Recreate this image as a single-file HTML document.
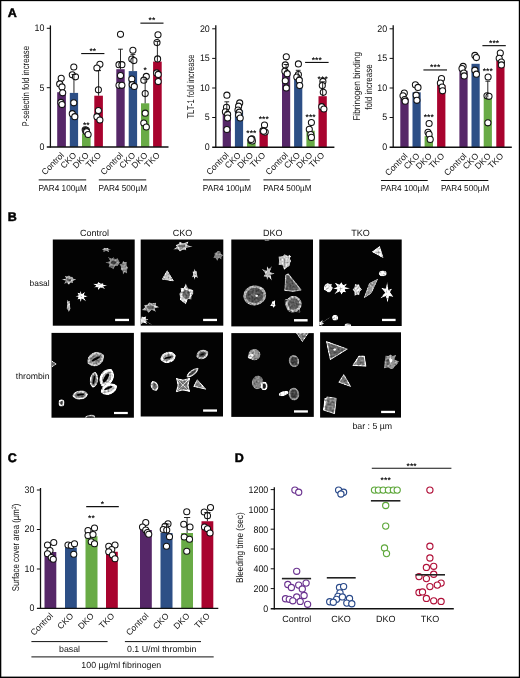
<!DOCTYPE html>
<html><head><meta charset="utf-8"><title>Figure</title>
<style>
html,body{margin:0;padding:0;background:#fff;}
body{width:520px;height:678px;overflow:hidden;position:relative;font-family:"Liberation Sans",sans-serif;}
svg{position:absolute;left:0;top:0;display:block;text-rendering:geometricPrecision;will-change:transform;-webkit-font-smoothing:antialiased;font-family:"Liberation Sans",sans-serif;}
</style></head>
<body>
<svg width="520" height="678" viewBox="0 0 520 678">
<rect x="0" y="0" width="520" height="678" fill="#fff"/>
<rect x="57.2" y="92.2" width="8.7" height="54.7" fill="#562768"/>
<rect x="69.8" y="92.9" width="8.3" height="54" fill="#2d4f86"/>
<rect x="82" y="133.5" width="8.6" height="13.4" fill="#69ab46"/>
<rect x="94.3" y="95.7" width="8.6" height="51.2" fill="#a8032e"/>
<rect x="116.3" y="69.2" width="8.4" height="77.7" fill="#562768"/>
<rect x="128.7" y="71.1" width="8.4" height="75.8" fill="#2d4f86"/>
<rect x="141" y="103.3" width="8.3" height="43.6" fill="#69ab46"/>
<rect x="153.1" y="61.6" width="8.6" height="85.3" fill="#a8032e"/>
<circle cx="61.2" cy="78.3" r="3.05" fill="#fff" stroke="#111" stroke-width="1.05"/>
<circle cx="59.7" cy="83.9" r="3.05" fill="#fff" stroke="#111" stroke-width="1.05"/>
<circle cx="62" cy="86.9" r="3.05" fill="#fff" stroke="#111" stroke-width="1.05"/>
<circle cx="62.7" cy="92.8" r="3.05" fill="#fff" stroke="#111" stroke-width="1.05"/>
<circle cx="60.9" cy="102.4" r="3.05" fill="#fff" stroke="#111" stroke-width="1.05"/>
<circle cx="62" cy="104.6" r="3.05" fill="#fff" stroke="#111" stroke-width="1.05"/>
<circle cx="73.8" cy="67" r="3.05" fill="#fff" stroke="#111" stroke-width="1.05"/>
<circle cx="72.3" cy="74.8" r="3.05" fill="#fff" stroke="#111" stroke-width="1.05"/>
<circle cx="75.5" cy="76.8" r="3.05" fill="#fff" stroke="#111" stroke-width="1.05"/>
<circle cx="73.8" cy="102.8" r="3.05" fill="#fff" stroke="#111" stroke-width="1.05"/>
<circle cx="72.3" cy="113.7" r="3.05" fill="#fff" stroke="#111" stroke-width="1.05"/>
<circle cx="74.8" cy="116.7" r="3.05" fill="#fff" stroke="#111" stroke-width="1.05"/>
<circle cx="85.2" cy="129.8" r="3.05" fill="#fff" stroke="#111" stroke-width="1.05"/>
<circle cx="86.4" cy="130.4" r="3.05" fill="#fff" stroke="#111" stroke-width="1.05"/>
<circle cx="85.8" cy="131.2" r="3.05" fill="#fff" stroke="#111" stroke-width="1.05"/>
<circle cx="86.6" cy="131.8" r="3.05" fill="#fff" stroke="#111" stroke-width="1.05"/>
<circle cx="88.1" cy="134.5" r="3.05" fill="#fff" stroke="#111" stroke-width="1.05"/>
<circle cx="99.9" cy="64.3" r="3.05" fill="#fff" stroke="#111" stroke-width="1.05"/>
<circle cx="96.9" cy="68" r="3.05" fill="#fff" stroke="#111" stroke-width="1.05"/>
<circle cx="98.4" cy="89.8" r="3.05" fill="#fff" stroke="#111" stroke-width="1.05"/>
<circle cx="98.4" cy="110.5" r="3.05" fill="#fff" stroke="#111" stroke-width="1.05"/>
<circle cx="96.9" cy="116.7" r="3.05" fill="#fff" stroke="#111" stroke-width="1.05"/>
<circle cx="99.9" cy="120" r="3.05" fill="#fff" stroke="#111" stroke-width="1.05"/>
<circle cx="120.5" cy="34.3" r="3.05" fill="#fff" stroke="#111" stroke-width="1.05"/>
<circle cx="119" cy="64.7" r="3.05" fill="#fff" stroke="#111" stroke-width="1.05"/>
<circle cx="121.9" cy="64.7" r="3.05" fill="#fff" stroke="#111" stroke-width="1.05"/>
<circle cx="120.5" cy="75.6" r="3.05" fill="#fff" stroke="#111" stroke-width="1.05"/>
<circle cx="119" cy="85.3" r="3.05" fill="#fff" stroke="#111" stroke-width="1.05"/>
<circle cx="121.9" cy="85.3" r="3.05" fill="#fff" stroke="#111" stroke-width="1.05"/>
<circle cx="132.9" cy="50.2" r="3.05" fill="#fff" stroke="#111" stroke-width="1.05"/>
<circle cx="131.8" cy="59.1" r="3.05" fill="#fff" stroke="#111" stroke-width="1.05"/>
<circle cx="133.9" cy="60.6" r="3.05" fill="#fff" stroke="#111" stroke-width="1.05"/>
<circle cx="131.8" cy="79.1" r="3.05" fill="#fff" stroke="#111" stroke-width="1.05"/>
<circle cx="132.2" cy="84.7" r="3.05" fill="#fff" stroke="#111" stroke-width="1.05"/>
<circle cx="134.3" cy="86.4" r="3.05" fill="#fff" stroke="#111" stroke-width="1.05"/>
<circle cx="146.3" cy="76.4" r="3.05" fill="#fff" stroke="#111" stroke-width="1.05"/>
<circle cx="143.8" cy="80.2" r="3.05" fill="#fff" stroke="#111" stroke-width="1.05"/>
<circle cx="145.2" cy="93.6" r="3.05" fill="#fff" stroke="#111" stroke-width="1.05"/>
<circle cx="145.2" cy="113.2" r="3.05" fill="#fff" stroke="#111" stroke-width="1.05"/>
<circle cx="143.8" cy="123.1" r="3.05" fill="#fff" stroke="#111" stroke-width="1.05"/>
<circle cx="146.3" cy="127" r="3.05" fill="#fff" stroke="#111" stroke-width="1.05"/>
<circle cx="158" cy="34.8" r="3.05" fill="#fff" stroke="#111" stroke-width="1.05"/>
<circle cx="157" cy="42.6" r="3.05" fill="#fff" stroke="#111" stroke-width="1.05"/>
<circle cx="157.6" cy="58.9" r="3.05" fill="#fff" stroke="#111" stroke-width="1.05"/>
<circle cx="156.6" cy="72.9" r="3.05" fill="#fff" stroke="#111" stroke-width="1.05"/>
<circle cx="158.2" cy="74.4" r="3.05" fill="#fff" stroke="#111" stroke-width="1.05"/>
<circle cx="158.2" cy="81.6" r="3.05" fill="#fff" stroke="#111" stroke-width="1.05"/>
<line x1="73.95" y1="92.9" x2="73.95" y2="74.5" stroke="#111" stroke-width="0.9"/>
<line x1="71.55" y1="74.5" x2="76.35" y2="74.5" stroke="#111" stroke-width="0.9"/>
<line x1="98.6" y1="95.7" x2="98.6" y2="70.6" stroke="#111" stroke-width="0.9"/>
<line x1="96.2" y1="70.6" x2="101" y2="70.6" stroke="#111" stroke-width="0.9"/>
<line x1="120.5" y1="69.2" x2="120.5" y2="49.2" stroke="#111" stroke-width="0.9"/>
<line x1="118.1" y1="49.2" x2="122.9" y2="49.2" stroke="#111" stroke-width="0.9"/>
<line x1="132.9" y1="71.1" x2="132.9" y2="54.4" stroke="#111" stroke-width="0.9"/>
<line x1="130.5" y1="54.4" x2="135.3" y2="54.4" stroke="#111" stroke-width="0.9"/>
<line x1="145.15" y1="103.3" x2="145.15" y2="79.1" stroke="#111" stroke-width="0.9"/>
<line x1="142.75" y1="79.1" x2="147.55" y2="79.1" stroke="#111" stroke-width="0.9"/>
<line x1="157.4" y1="61.6" x2="157.4" y2="41.4" stroke="#111" stroke-width="0.9"/>
<line x1="155" y1="41.4" x2="159.8" y2="41.4" stroke="#111" stroke-width="0.9"/>
<line x1="50.4" y1="25.4" x2="50.4" y2="147.6" stroke="#111" stroke-width="1.3"/>
<line x1="46.8" y1="147" x2="168.5" y2="147" stroke="#111" stroke-width="1.4"/>
<line x1="46.8" y1="28.3" x2="50.4" y2="28.3" stroke="#111" stroke-width="1.0"/>
<text x="44.4" y="31.15" font-size="9.5" text-anchor="end" font-weight="normal" fill="#111" textLength="9.9" lengthAdjust="spacingAndGlyphs">10</text>
<line x1="46.8" y1="87.7" x2="50.4" y2="87.7" stroke="#111" stroke-width="1.0"/>
<text x="44.4" y="90.55" font-size="9.5" text-anchor="end" font-weight="normal" fill="#111" textLength="4.95" lengthAdjust="spacingAndGlyphs">5</text>
<text x="44.4" y="149.75" font-size="9.5" text-anchor="end" font-weight="normal" fill="#111" textLength="4.95" lengthAdjust="spacingAndGlyphs">0</text>
<line x1="81.2" y1="53.55" x2="104.4" y2="53.55" stroke="#111" stroke-width="1.15"/>
<text x="92.8" y="53.7" font-size="8.4" text-anchor="middle" font-weight="bold" fill="#111" letter-spacing="0.15">**</text>
<line x1="140.4" y1="23.15" x2="163.5" y2="23.15" stroke="#111" stroke-width="1.15"/>
<text x="152" y="23.3" font-size="8.4" text-anchor="middle" font-weight="bold" fill="#111" letter-spacing="0.15">**</text>
<text x="86.3" y="127.7" font-size="8.4" text-anchor="middle" font-weight="bold" fill="#111" letter-spacing="0.15">**</text>
<text x="145.2" y="73.4" font-size="8.4" text-anchor="middle" font-weight="bold" fill="#111" letter-spacing="0.15">*</text>
<text transform="translate(28.6,86.2) rotate(-90)" font-size="9.8" text-anchor="middle" fill="#111" textLength="80.6" lengthAdjust="spacingAndGlyphs">P-selectin fold increase</text>
<text transform="translate(64.6,155.8) rotate(-45)" font-size="8.6" text-anchor="end" fill="#111" >Control</text>
<text transform="translate(77.1,155.8) rotate(-45)" font-size="8.6" text-anchor="end" fill="#111" >CKO</text>
<text transform="translate(89.4,155.8) rotate(-45)" font-size="8.6" text-anchor="end" fill="#111" >DKO</text>
<text transform="translate(101.7,155.8) rotate(-45)" font-size="8.6" text-anchor="end" fill="#111" >TKO</text>
<text transform="translate(123.6,155.8) rotate(-45)" font-size="8.6" text-anchor="end" fill="#111" >Control</text>
<text transform="translate(136,155.8) rotate(-45)" font-size="8.6" text-anchor="end" fill="#111" >CKO</text>
<text transform="translate(148.2,155.8) rotate(-45)" font-size="8.6" text-anchor="end" fill="#111" >DKO</text>
<text transform="translate(160.5,155.8) rotate(-45)" font-size="8.6" text-anchor="end" fill="#111" >TKO</text>
<line x1="38.7" y1="179.9" x2="86.2" y2="179.9" stroke="#111" stroke-width="1.0"/>
<text x="38.5" y="190.6" font-size="8.6" text-anchor="start" font-weight="normal" fill="#111" textLength="48.4" lengthAdjust="spacingAndGlyphs">PAR4 100µM</text>
<line x1="98.8" y1="179.9" x2="146.2" y2="179.9" stroke="#111" stroke-width="1.0"/>
<text x="98.6" y="190.6" font-size="8.6" text-anchor="start" font-weight="normal" fill="#111" textLength="48.4" lengthAdjust="spacingAndGlyphs">PAR4 500µM</text>
<rect x="222.7" y="112.9" width="8.2" height="34.2" fill="#562768"/>
<rect x="234.9" y="110.5" width="8.2" height="36.6" fill="#2d4f86"/>
<rect x="247" y="142.3" width="8.6" height="4.8" fill="#69ab46"/>
<rect x="259.5" y="131.2" width="8.3" height="15.9" fill="#a8032e"/>
<rect x="282" y="72.2" width="8.2" height="74.9" fill="#562768"/>
<rect x="294.1" y="77.9" width="8.2" height="69.2" fill="#2d4f86"/>
<rect x="306.4" y="130.7" width="8.3" height="16.4" fill="#69ab46"/>
<rect x="318.5" y="96.2" width="8.3" height="50.9" fill="#a8032e"/>
<circle cx="226.9" cy="95.2" r="3.05" fill="#fff" stroke="#111" stroke-width="1.05"/>
<circle cx="226.5" cy="107.3" r="3.05" fill="#fff" stroke="#111" stroke-width="1.05"/>
<circle cx="225.4" cy="111.8" r="3.05" fill="#fff" stroke="#111" stroke-width="1.05"/>
<circle cx="227.6" cy="114.4" r="3.05" fill="#fff" stroke="#111" stroke-width="1.05"/>
<circle cx="227.6" cy="118" r="3.05" fill="#fff" stroke="#111" stroke-width="1.05"/>
<circle cx="226.9" cy="129.5" r="3.05" fill="#fff" stroke="#111" stroke-width="1.05"/>
<circle cx="239.7" cy="102.9" r="3.05" fill="#fff" stroke="#111" stroke-width="1.05"/>
<circle cx="238.6" cy="106.2" r="3.05" fill="#fff" stroke="#111" stroke-width="1.05"/>
<circle cx="238" cy="110" r="3.05" fill="#fff" stroke="#111" stroke-width="1.05"/>
<circle cx="239.3" cy="112.2" r="3.05" fill="#fff" stroke="#111" stroke-width="1.05"/>
<circle cx="238.6" cy="115.1" r="3.05" fill="#fff" stroke="#111" stroke-width="1.05"/>
<circle cx="240.2" cy="118" r="3.05" fill="#fff" stroke="#111" stroke-width="1.05"/>
<circle cx="251.9" cy="138.8" r="3.05" fill="#fff" stroke="#111" stroke-width="1.05"/>
<circle cx="250.8" cy="140.5" r="3.05" fill="#fff" stroke="#111" stroke-width="1.05"/>
<circle cx="252.4" cy="141" r="3.05" fill="#fff" stroke="#111" stroke-width="1.05"/>
<circle cx="251.2" cy="139.4" r="3.05" fill="#fff" stroke="#111" stroke-width="1.05"/>
<circle cx="264.5" cy="125" r="3.05" fill="#fff" stroke="#111" stroke-width="1.05"/>
<circle cx="263" cy="130.6" r="3.05" fill="#fff" stroke="#111" stroke-width="1.05"/>
<circle cx="265.2" cy="132.1" r="3.05" fill="#fff" stroke="#111" stroke-width="1.05"/>
<circle cx="263.6" cy="131.2" r="3.05" fill="#fff" stroke="#111" stroke-width="1.05"/>
<circle cx="286.3" cy="56.8" r="3.05" fill="#fff" stroke="#111" stroke-width="1.05"/>
<circle cx="285.3" cy="64.9" r="3.05" fill="#fff" stroke="#111" stroke-width="1.05"/>
<circle cx="284.9" cy="71.2" r="3.05" fill="#fff" stroke="#111" stroke-width="1.05"/>
<circle cx="287.2" cy="73.7" r="3.05" fill="#fff" stroke="#111" stroke-width="1.05"/>
<circle cx="285.3" cy="80.8" r="3.05" fill="#fff" stroke="#111" stroke-width="1.05"/>
<circle cx="286.3" cy="87.9" r="3.05" fill="#fff" stroke="#111" stroke-width="1.05"/>
<circle cx="298.4" cy="63.9" r="3.05" fill="#fff" stroke="#111" stroke-width="1.05"/>
<circle cx="298.4" cy="74.5" r="3.05" fill="#fff" stroke="#111" stroke-width="1.05"/>
<circle cx="296.8" cy="77" r="3.05" fill="#fff" stroke="#111" stroke-width="1.05"/>
<circle cx="299.3" cy="80.2" r="3.05" fill="#fff" stroke="#111" stroke-width="1.05"/>
<circle cx="299.7" cy="85.6" r="3.05" fill="#fff" stroke="#111" stroke-width="1.05"/>
<circle cx="311.4" cy="122.6" r="3.05" fill="#fff" stroke="#111" stroke-width="1.05"/>
<circle cx="309.3" cy="129.3" r="3.05" fill="#fff" stroke="#111" stroke-width="1.05"/>
<circle cx="310.8" cy="134.5" r="3.05" fill="#fff" stroke="#111" stroke-width="1.05"/>
<circle cx="311.4" cy="137.4" r="3.05" fill="#fff" stroke="#111" stroke-width="1.05"/>
<circle cx="322.9" cy="81.4" r="3.05" fill="#fff" stroke="#111" stroke-width="1.05"/>
<circle cx="322.3" cy="85.6" r="3.05" fill="#fff" stroke="#111" stroke-width="1.05"/>
<circle cx="323.3" cy="92.3" r="3.05" fill="#fff" stroke="#111" stroke-width="1.05"/>
<circle cx="321.7" cy="106.7" r="3.05" fill="#fff" stroke="#111" stroke-width="1.05"/>
<circle cx="323.9" cy="109" r="3.05" fill="#fff" stroke="#111" stroke-width="1.05"/>
<line x1="226.8" y1="112.9" x2="226.8" y2="101.8" stroke="#111" stroke-width="0.9"/>
<line x1="224.4" y1="101.8" x2="229.2" y2="101.8" stroke="#111" stroke-width="0.9"/>
<line x1="286.1" y1="72.2" x2="286.1" y2="64.5" stroke="#111" stroke-width="0.9"/>
<line x1="283.7" y1="64.5" x2="288.5" y2="64.5" stroke="#111" stroke-width="0.9"/>
<line x1="298.2" y1="77.9" x2="298.2" y2="70.3" stroke="#111" stroke-width="0.9"/>
<line x1="295.8" y1="70.3" x2="300.6" y2="70.3" stroke="#111" stroke-width="0.9"/>
<line x1="322.65" y1="96.2" x2="322.65" y2="81.8" stroke="#111" stroke-width="0.9"/>
<line x1="320.25" y1="81.8" x2="325.05" y2="81.8" stroke="#111" stroke-width="0.9"/>
<line x1="215.8" y1="25.3" x2="215.8" y2="147.8" stroke="#111" stroke-width="1.3"/>
<line x1="212.2" y1="147.2" x2="334.4" y2="147.2" stroke="#111" stroke-width="1.4"/>
<line x1="212.2" y1="28.8" x2="215.8" y2="28.8" stroke="#111" stroke-width="1.0"/>
<text x="209.8" y="31.65" font-size="9.5" text-anchor="end" font-weight="normal" fill="#111" textLength="9.9" lengthAdjust="spacingAndGlyphs">20</text>
<line x1="212.2" y1="58.4" x2="215.8" y2="58.4" stroke="#111" stroke-width="1.0"/>
<text x="209.8" y="61.25" font-size="9.5" text-anchor="end" font-weight="normal" fill="#111" textLength="9.9" lengthAdjust="spacingAndGlyphs">15</text>
<line x1="212.2" y1="88" x2="215.8" y2="88" stroke="#111" stroke-width="1.0"/>
<text x="209.8" y="90.85" font-size="9.5" text-anchor="end" font-weight="normal" fill="#111" textLength="9.9" lengthAdjust="spacingAndGlyphs">10</text>
<line x1="212.2" y1="117.5" x2="215.8" y2="117.5" stroke="#111" stroke-width="1.0"/>
<text x="209.8" y="120.35" font-size="9.5" text-anchor="end" font-weight="normal" fill="#111" textLength="4.95" lengthAdjust="spacingAndGlyphs">5</text>
<text x="209.8" y="149.95" font-size="9.5" text-anchor="end" font-weight="normal" fill="#111" textLength="4.95" lengthAdjust="spacingAndGlyphs">0</text>
<line x1="305.1" y1="62.45" x2="328.6" y2="62.45" stroke="#111" stroke-width="1.15"/>
<text x="316.8" y="62.7" font-size="8.4" text-anchor="middle" font-weight="bold" fill="#111" letter-spacing="0.15">***</text>
<text x="251.4" y="135.5" font-size="8.4" text-anchor="middle" font-weight="bold" fill="#111" letter-spacing="0.15">***</text>
<text x="263.8" y="122.3" font-size="8.4" text-anchor="middle" font-weight="bold" fill="#111" letter-spacing="0.15">***</text>
<text x="310.6" y="120.3" font-size="8.4" text-anchor="middle" font-weight="bold" fill="#111" letter-spacing="0.15">***</text>
<text x="322.7" y="81.6" font-size="8.4" text-anchor="middle" font-weight="bold" fill="#111" letter-spacing="0.15">***</text>
<text transform="translate(194,86.5) rotate(-90)" font-size="9.8" text-anchor="middle" fill="#111" textLength="64" lengthAdjust="spacingAndGlyphs">TLT-1 fold increase</text>
<text transform="translate(229.3,155.8) rotate(-45)" font-size="8.6" text-anchor="end" fill="#111" >Control</text>
<text transform="translate(241.5,155.8) rotate(-45)" font-size="8.6" text-anchor="end" fill="#111" >CKO</text>
<text transform="translate(253.8,155.8) rotate(-45)" font-size="8.6" text-anchor="end" fill="#111" >DKO</text>
<text transform="translate(266.1,155.8) rotate(-45)" font-size="8.6" text-anchor="end" fill="#111" >TKO</text>
<text transform="translate(288.6,155.8) rotate(-45)" font-size="8.6" text-anchor="end" fill="#111" >Control</text>
<text transform="translate(300.7,155.8) rotate(-45)" font-size="8.6" text-anchor="end" fill="#111" >CKO</text>
<text transform="translate(313,155.8) rotate(-45)" font-size="8.6" text-anchor="end" fill="#111" >DKO</text>
<text transform="translate(325.1,155.8) rotate(-45)" font-size="8.6" text-anchor="end" fill="#111" >TKO</text>
<line x1="203" y1="179.9" x2="249.8" y2="179.9" stroke="#111" stroke-width="1.0"/>
<text x="202.8" y="190.6" font-size="8.6" text-anchor="start" font-weight="normal" fill="#111" textLength="48.4" lengthAdjust="spacingAndGlyphs">PAR4 100µM</text>
<line x1="263.4" y1="179.9" x2="310.4" y2="179.9" stroke="#111" stroke-width="1.0"/>
<text x="263.2" y="190.6" font-size="8.6" text-anchor="start" font-weight="normal" fill="#111" textLength="48.4" lengthAdjust="spacingAndGlyphs">PAR4 500µM</text>
<rect x="400.3" y="98.5" width="8.3" height="48.6" fill="#562768"/>
<rect x="412.5" y="92.3" width="8.2" height="54.8" fill="#2d4f86"/>
<rect x="424.6" y="136.1" width="8.4" height="11" fill="#69ab46"/>
<rect x="437.1" y="85.2" width="8.3" height="61.9" fill="#a8032e"/>
<rect x="459.4" y="70.8" width="8.2" height="76.3" fill="#562768"/>
<rect x="471.5" y="63.8" width="8.2" height="83.3" fill="#2d4f86"/>
<rect x="483.7" y="97.4" width="8.2" height="49.7" fill="#69ab46"/>
<rect x="496.3" y="60.9" width="8.2" height="86.2" fill="#a8032e"/>
<circle cx="404.3" cy="93" r="3.05" fill="#fff" stroke="#111" stroke-width="1.05"/>
<circle cx="403" cy="95.8" r="3.05" fill="#fff" stroke="#111" stroke-width="1.05"/>
<circle cx="404.7" cy="99.6" r="3.05" fill="#fff" stroke="#111" stroke-width="1.05"/>
<circle cx="405.2" cy="101.2" r="3.05" fill="#fff" stroke="#111" stroke-width="1.05"/>
<circle cx="415.4" cy="84.8" r="3.05" fill="#fff" stroke="#111" stroke-width="1.05"/>
<circle cx="418" cy="87.4" r="3.05" fill="#fff" stroke="#111" stroke-width="1.05"/>
<circle cx="416.2" cy="95.2" r="3.05" fill="#fff" stroke="#111" stroke-width="1.05"/>
<circle cx="416.9" cy="100.3" r="3.05" fill="#fff" stroke="#111" stroke-width="1.05"/>
<circle cx="429.1" cy="123.5" r="3.05" fill="#fff" stroke="#111" stroke-width="1.05"/>
<circle cx="428" cy="132.3" r="3.05" fill="#fff" stroke="#111" stroke-width="1.05"/>
<circle cx="429.1" cy="134.3" r="3.05" fill="#fff" stroke="#111" stroke-width="1.05"/>
<circle cx="430.2" cy="139.4" r="3.05" fill="#fff" stroke="#111" stroke-width="1.05"/>
<circle cx="441.5" cy="78.6" r="3.05" fill="#fff" stroke="#111" stroke-width="1.05"/>
<circle cx="440.4" cy="83" r="3.05" fill="#fff" stroke="#111" stroke-width="1.05"/>
<circle cx="442.1" cy="87" r="3.05" fill="#fff" stroke="#111" stroke-width="1.05"/>
<circle cx="442.6" cy="90.8" r="3.05" fill="#fff" stroke="#111" stroke-width="1.05"/>
<circle cx="463.1" cy="66.4" r="3.05" fill="#fff" stroke="#111" stroke-width="1.05"/>
<circle cx="462" cy="68.6" r="3.05" fill="#fff" stroke="#111" stroke-width="1.05"/>
<circle cx="463.8" cy="73" r="3.05" fill="#fff" stroke="#111" stroke-width="1.05"/>
<circle cx="464.2" cy="75.9" r="3.05" fill="#fff" stroke="#111" stroke-width="1.05"/>
<circle cx="474.9" cy="55.4" r="3.05" fill="#fff" stroke="#111" stroke-width="1.05"/>
<circle cx="476.4" cy="57.6" r="3.05" fill="#fff" stroke="#111" stroke-width="1.05"/>
<circle cx="474.9" cy="70.2" r="3.05" fill="#fff" stroke="#111" stroke-width="1.05"/>
<circle cx="476.4" cy="74.2" r="3.05" fill="#fff" stroke="#111" stroke-width="1.05"/>
<circle cx="488.1" cy="77" r="3.05" fill="#fff" stroke="#111" stroke-width="1.05"/>
<circle cx="487" cy="95.8" r="3.05" fill="#fff" stroke="#111" stroke-width="1.05"/>
<circle cx="489" cy="96.3" r="3.05" fill="#fff" stroke="#111" stroke-width="1.05"/>
<circle cx="487.9" cy="122.8" r="3.05" fill="#fff" stroke="#111" stroke-width="1.05"/>
<circle cx="500.3" cy="53.1" r="3.05" fill="#fff" stroke="#111" stroke-width="1.05"/>
<circle cx="499.2" cy="58.2" r="3.05" fill="#fff" stroke="#111" stroke-width="1.05"/>
<circle cx="501.4" cy="62" r="3.05" fill="#fff" stroke="#111" stroke-width="1.05"/>
<circle cx="501.4" cy="64.9" r="3.05" fill="#fff" stroke="#111" stroke-width="1.05"/>
<line x1="487.8" y1="97.4" x2="487.8" y2="81.2" stroke="#111" stroke-width="0.9"/>
<line x1="485.4" y1="81.2" x2="490.2" y2="81.2" stroke="#111" stroke-width="0.9"/>
<line x1="393.2" y1="25.3" x2="393.2" y2="147.8" stroke="#111" stroke-width="1.3"/>
<line x1="389.6" y1="147.2" x2="511.8" y2="147.2" stroke="#111" stroke-width="1.4"/>
<line x1="389.6" y1="28.8" x2="393.2" y2="28.8" stroke="#111" stroke-width="1.0"/>
<text x="387.2" y="31.65" font-size="9.5" text-anchor="end" font-weight="normal" fill="#111" textLength="9.9" lengthAdjust="spacingAndGlyphs">20</text>
<line x1="389.6" y1="58.4" x2="393.2" y2="58.4" stroke="#111" stroke-width="1.0"/>
<text x="387.2" y="61.25" font-size="9.5" text-anchor="end" font-weight="normal" fill="#111" textLength="9.9" lengthAdjust="spacingAndGlyphs">15</text>
<line x1="389.6" y1="88" x2="393.2" y2="88" stroke="#111" stroke-width="1.0"/>
<text x="387.2" y="90.85" font-size="9.5" text-anchor="end" font-weight="normal" fill="#111" textLength="9.9" lengthAdjust="spacingAndGlyphs">10</text>
<line x1="389.6" y1="117.5" x2="393.2" y2="117.5" stroke="#111" stroke-width="1.0"/>
<text x="387.2" y="120.35" font-size="9.5" text-anchor="end" font-weight="normal" fill="#111" textLength="4.95" lengthAdjust="spacingAndGlyphs">5</text>
<text x="387.2" y="149.95" font-size="9.5" text-anchor="end" font-weight="normal" fill="#111" textLength="4.95" lengthAdjust="spacingAndGlyphs">0</text>
<line x1="423.4" y1="69.95" x2="447" y2="69.95" stroke="#111" stroke-width="1.15"/>
<text x="435.2" y="70.3" font-size="8.4" text-anchor="middle" font-weight="bold" fill="#111" letter-spacing="0.15">***</text>
<line x1="482.4" y1="45.65" x2="505.8" y2="45.65" stroke="#111" stroke-width="1.15"/>
<text x="494.1" y="46" font-size="8.4" text-anchor="middle" font-weight="bold" fill="#111" letter-spacing="0.15">***</text>
<text x="428.8" y="120.3" font-size="8.4" text-anchor="middle" font-weight="bold" fill="#111" letter-spacing="0.15">***</text>
<text x="487.8" y="74.3" font-size="8.4" text-anchor="middle" font-weight="bold" fill="#111" letter-spacing="0.15">***</text>
<text transform="translate(360.3,86.3) rotate(-90)" font-size="9.8" text-anchor="middle" fill="#111" textLength="69" lengthAdjust="spacingAndGlyphs">Fibrinogen binding</text>
<text transform="translate(372.2,87) rotate(-90)" font-size="9.8" text-anchor="middle" fill="#111" textLength="45.4" lengthAdjust="spacingAndGlyphs">fold increase</text>
<text transform="translate(408.1,156.6) rotate(-45)" font-size="8.6" text-anchor="end" fill="#111" >Control</text>
<text transform="translate(420.3,156.6) rotate(-45)" font-size="8.6" text-anchor="end" fill="#111" >CKO</text>
<text transform="translate(432.5,156.6) rotate(-45)" font-size="8.6" text-anchor="end" fill="#111" >DKO</text>
<text transform="translate(444.9,156.6) rotate(-45)" font-size="8.6" text-anchor="end" fill="#111" >TKO</text>
<text transform="translate(467.2,156.6) rotate(-45)" font-size="8.6" text-anchor="end" fill="#111" >Control</text>
<text transform="translate(479.3,156.6) rotate(-45)" font-size="8.6" text-anchor="end" fill="#111" >CKO</text>
<text transform="translate(491.5,156.6) rotate(-45)" font-size="8.6" text-anchor="end" fill="#111" >DKO</text>
<text transform="translate(504.1,156.6) rotate(-45)" font-size="8.6" text-anchor="end" fill="#111" >TKO</text>
<line x1="381" y1="180.5" x2="427.7" y2="180.5" stroke="#111" stroke-width="1.0"/>
<text x="380.8" y="191.2" font-size="8.6" text-anchor="start" font-weight="normal" fill="#111" textLength="48.4" lengthAdjust="spacingAndGlyphs">PAR4 100µM</text>
<line x1="441.2" y1="180.5" x2="488.3" y2="180.5" stroke="#111" stroke-width="1.0"/>
<text x="441" y="191.2" font-size="8.6" text-anchor="start" font-weight="normal" fill="#111" textLength="48.4" lengthAdjust="spacingAndGlyphs">PAR4 500µM</text>
<text x="7.8" y="17.4" font-size="12.5" text-anchor="start" font-weight="bold" fill="#000" stroke="#000" stroke-width="0.5">A</text>
<text x="7.8" y="221.3" font-size="12.5" text-anchor="start" font-weight="bold" fill="#000" stroke="#000" stroke-width="0.5">B</text>
<text x="7.8" y="462" font-size="12.5" text-anchor="start" font-weight="bold" fill="#000" stroke="#000" stroke-width="0.5">C</text>
<text x="234.8" y="462" font-size="12.5" text-anchor="start" font-weight="bold" fill="#000" stroke="#000" stroke-width="0.5">D</text>
<defs><filter id="bl" x="-5%" y="-5%" width="110%" height="110%" color-interpolation-filters="sRGB"><feTurbulence type="fractalNoise" baseFrequency="0.5" numOctaves="2" seed="4" result="n"/><feColorMatrix in="n" type="matrix" values="1.3 0 0 0 -0.15  1.3 0 0 0 -0.15  1.3 0 0 0 -0.15  0 0 0 0 1" result="n2"/><feComposite in="SourceGraphic" in2="n2" operator="arithmetic" k1="1.05" k2="0.55" k3="0" k4="0" result="t"/><feComposite in="t" in2="SourceGraphic" operator="in" result="t2"/><feGaussianBlur in="t2" stdDeviation="0.68"/></filter></defs>
<clipPath id="c1"><rect x="52.8" y="239.5" width="81.9" height="86.2"/></clipPath>
<rect x="52.8" y="239.5" width="81.9" height="86.2" fill="#030303"/>
<g clip-path="url(#c1)"><g filter="url(#bl)">
<polygon points="111.4,249.7 108.7,250.4 109.3,252.5 106.2,251.1 103.3,252.3 103.4,250.5 101.7,249.7 103.2,248.8 104,247.7 106.2,248 108.5,247.7 108.6,249" fill="#9a9a9a" stroke="none" stroke-width="0" stroke-linejoin="round"/>
<polygon points="120.1,262.4 118.7,264.5 117.5,266.2 115.1,266.1 113.5,269.5 111.2,267.7 108.4,267.3 109.3,264.1 105,262.4 110,261 107.7,256.8 111.8,258.5 113.5,256.9 115,258.9 117.9,258.1 118.7,260.3" fill="#7d7d7d" stroke="none" stroke-width="0" stroke-linejoin="round"/>
<ellipse cx="113.5" cy="262.6" rx="2.4" ry="2.2" transform="rotate(0 113.5 262.6)" fill="#3a3a3a" stroke="none" stroke-width="0"/>
<polygon points="128.1,267.5 127.2,269.9 127.2,273.8 124.7,272.3 122.9,275.1 122.4,270.7 120.6,270.1 121.1,267.5 119.3,263.9 122,263.5 123,260.8 124.8,262.1 126.9,261.7 126.7,265.4" fill="#8a8a8a" stroke="none" stroke-width="0" stroke-linejoin="round"/>
<polygon points="76.4,279.6 73.1,281 73,282.9 70.6,282.7 69,285 67.2,283.2 63.9,283.8 65.7,280.7 61,279.6 66,278.6 64.6,276 67.3,276.2 69,275.2 70.5,276.6 72.5,276.7 73,278.2" fill="#a5a5a5" stroke="none" stroke-width="0" stroke-linejoin="round"/>
<ellipse cx="69" cy="280" rx="2.3" ry="1.4" transform="rotate(0 69 280)" fill="#555" stroke="none" stroke-width="0"/>
<polygon points="108,285.7 103.2,286.6 105.2,289.3 100.6,287.4 98.2,289.9 97.6,287.3 93.2,287.5 96.4,285.7 92.4,283.7 97.2,283.8 98.3,281.9 100.8,283.6 103.4,283.3 103.4,284.8" fill="#f4f4f4" stroke="none" stroke-width="0" stroke-linejoin="round"/>
<polygon points="88,296.2 84,297.5 86.3,301.7 81.8,298.5 80.8,302.5 79.6,299 77.2,299.8 78.3,297.3 75.2,296.2 78.7,295.3 77.1,292.5 79.6,293.3 80.8,290.8 81.7,293.9 85.3,291.7 83.9,294.9" fill="#f2f2f2" stroke="none" stroke-width="0" stroke-linejoin="round"/>
<polygon points="68.7,312.2 67.9,309.9 66.5,308.7 67.1,304.8 67.1,299.5 68.7,301.2 69.9,301.1 70,305.1 70.7,308.5 69.7,310.7" fill="#b4b4b4" stroke="none" stroke-width="0" stroke-linejoin="round"/>
</g></g>
<rect x="115.1" y="318.8" width="13.9" height="2.3" fill="#fff"/>
<clipPath id="c2"><rect x="140.7" y="239.5" width="82.6" height="86.2"/></clipPath>
<rect x="140.7" y="239.5" width="82.6" height="86.2" fill="#030303"/>
<g clip-path="url(#c2)"><g filter="url(#bl)">
<polygon points="193,246.8 185.9,248.1 186.5,250.6 182.8,249.8 179.9,251.7 178.2,249.6 173,249.4 176.7,246.8 175.5,244.9 178.3,244.1 179.8,241.6 183,243.2 188.7,241.3 187.3,245.1" fill="#b8b8b8" stroke="none" stroke-width="0" stroke-linejoin="round"/>
<ellipse cx="181.5" cy="246" rx="3.5" ry="1.6" transform="rotate(0 181.5 246)" fill="#6a6a6a" stroke="none" stroke-width="0"/>
<polygon points="223.3,255.1 221.6,256.9 221.7,259.8 219,258 217.1,261.6 216,258.5 213.2,257.9 214.5,255.1 214.3,252.8 216.4,252.2 217.5,250.8 219.2,251.1 220.8,251.7 220.8,253.8" fill="#7a7a7a" stroke="none" stroke-width="0" stroke-linejoin="round"/>
<polygon points="194.7,280.5 193.9,277.1 191.8,277.6 193.1,274.2 192.3,271.4 193.9,271.3 194.7,268.3 195.6,270.9 197.1,271.4 197.1,274.2 198.1,278.1 195.5,277.1" fill="#c2c2c2" stroke="none" stroke-width="0" stroke-linejoin="round"/>
<polygon points="167.2,270.6 173.5,281 162.2,279.2" fill="#b5b5b5" stroke="#d8d8d8" stroke-width="1" stroke-linejoin="round"/>
<polygon points="193.4,293.7 191.6,296.2 191.5,299.8 188,299.1 185.9,304.5 182.7,302 180,300.1 179.8,296.4 179.2,293.7 181,291.5 180.4,287.7 183.7,287.9 185.9,283 188,288.2 190.5,288.7 193.4,290.3" fill="#c8c8c8" stroke="none" stroke-width="0" stroke-linejoin="round"/>
<ellipse cx="186.3" cy="294.3" rx="3.6" ry="4.4" transform="rotate(0 186.3 294.3)" fill="#5c5c5c" stroke="none" stroke-width="0"/>
<polygon points="159.6,307.2 154.6,308.5 156.3,312 151.6,309.9 148.7,313.1 146.6,310.7 141.4,310.3 144.9,307.2 143.8,304.9 147.6,304.6 149.1,302.3 152,303.2 156.2,302.4 156.1,305.4" fill="#a8a8a8" stroke="none" stroke-width="0" stroke-linejoin="round"/>
<ellipse cx="150.7" cy="307.6" rx="3.6" ry="2" transform="rotate(0 150.7 307.6)" fill="#5a5a5a" stroke="none" stroke-width="0"/>
<polygon points="148.7,319.6 146.1,320.7 147,324.2 143.9,322.7 140.8,324.3 141,321.1 137.8,319.6 141.1,318.2 141.6,316.2 143.9,317 146.4,315.9 145.8,318.6" fill="#d5d5d5" stroke="none" stroke-width="0" stroke-linejoin="round"/>
<path d="M144,320 L151.6,324.6" stroke="#9a9a9a" stroke-width="0.9" fill="none"/>
</g></g>
<rect x="203.1" y="318.8" width="13.9" height="2.3" fill="#fff"/>
<clipPath id="c3"><rect x="231.3" y="239.5" width="81.7" height="86.9"/></clipPath>
<rect x="231.3" y="239.5" width="81.7" height="86.9" fill="#030303"/>
<g clip-path="url(#c3)"><g filter="url(#bl)">
<polygon points="291.2,260.7 290.3,263.1 289.7,266.1 287.2,267.4 284,270.1 282.5,265.5 278.3,264.8 279,260.7 278.3,256.5 282.7,256.1 284.6,254.1 287,255.4 289.5,255.5 290.1,258.4" fill="#b9b9b9" stroke="none" stroke-width="0" stroke-linejoin="round"/>
<polygon points="291.4,256.6 290.2,257.8 289.4,259.8 288.8,257.6 287.4,256.6 288.7,255.5 289.4,254.4 290.1,255.5" fill="#ccc" stroke="none" stroke-width="0" stroke-linejoin="round"/>
<polygon points="275,273.4 270.8,275.3 272.1,280.9 268.7,277.1 267,280.4 266.3,276.8 263.4,276.8 265.1,273.4 261.7,268.8 266.6,270.6 266.9,265.5 268.8,268.8 272.1,266 270,272" fill="#b0b0b0" stroke="none" stroke-width="0" stroke-linejoin="round"/>
<polygon points="285.8,275.2 288.2,274 301,290 293,291.2 284.8,290.4" fill="#505050" stroke="#a8a8a8" stroke-width="1.4" stroke-linejoin="round"/>
<ellipse cx="254.7" cy="295.4" rx="10.2" ry="8.8" transform="rotate(-8 254.7 295.4)" fill="#4a4a4a" stroke="#9e9e9e" stroke-width="2.8"/>
<ellipse cx="256.6" cy="295.8" rx="1.3" ry="1" transform="rotate(0 256.6 295.8)" fill="#fff" stroke="none" stroke-width="0"/>
<ellipse cx="253.4" cy="294.6" rx="2.4" ry="1.2" transform="rotate(0 253.4 294.6)" fill="#777" stroke="none" stroke-width="0"/>
<polygon points="273.3,308.1 272.5,306.2 270.1,306.1 271.5,303.4 272,301.3 273.3,301.2 275.3,299.8 275,303.5 275.7,305.7 274.3,306.7" fill="#f0f0f0" stroke="none" stroke-width="0" stroke-linejoin="round"/>
<ellipse cx="293.7" cy="304" rx="7" ry="7" transform="rotate(0 293.7 304)" fill="#555" stroke="#a6a6a6" stroke-width="2.4"/>
<polygon points="300.5,304 298.6,306.4 300.1,312.2 295.4,311.7 291.8,312.4 288.3,311 286.5,307.6 285.3,304 285,299.7 289.9,299.1 292.1,296.7 295.1,297.6 298.2,298.2 300.4,300.7" fill="none" stroke="#9a9a9a" stroke-width="0.9" stroke-linejoin="round"/>
<ellipse cx="267" cy="239.7" rx="3" ry="1.2" transform="rotate(0 267 239.7)" fill="#888" stroke="none" stroke-width="0"/>
</g></g>
<rect x="294" y="319.1" width="13.6" height="2.4" fill="#fff"/>
<clipPath id="c4"><rect x="319.3" y="239.5" width="82.4" height="86.5"/></clipPath>
<rect x="319.3" y="239.5" width="82.4" height="86.5" fill="#030303"/>
<g clip-path="url(#c4)"><g filter="url(#bl)">
<polygon points="372.6,251.8 379.6,246.6 383,257.4" fill="#d0d0d0" stroke="#e8e8e8" stroke-width="1.1" stroke-linejoin="round"/>
<ellipse cx="382.8" cy="273.4" rx="4" ry="2.8" transform="rotate(0 382.8 273.4)" fill="#e4e4e4" stroke="none" stroke-width="0"/>
<polygon points="333.2,287.8 332.2,289.5 331.3,291 329.8,292.6 327.7,292.4 326.2,290.9 324,290.1 323.8,287.8 324.3,285.7 325.6,284 327.6,282.9 329.6,283.8 331.9,283.8 331.5,286.5" fill="#dedede" stroke="none" stroke-width="0" stroke-linejoin="round"/>
<polygon points="350.5,288.3 344.7,289.4 346.4,292.5 343.3,292 341.4,294.8 339.8,291.5 334,294.5 337.4,289.7 332.8,288.3 337.4,286.9 334.5,282.6 339.5,284.6 341.4,282 343.1,285 347.2,283.5 344.9,287.1" fill="#f2f2f2" stroke="none" stroke-width="0" stroke-linejoin="round"/>
<polygon points="362.1,289.5 359.9,291.8 359.4,295 357.1,294.8 354.5,296 354.3,291.8 352.5,289.5 354.3,287.2 354.9,284.1 357.1,284.4 359.2,284.3 360,287.1" fill="#cdcdcd" stroke="none" stroke-width="0" stroke-linejoin="round"/>
<polygon points="377.6,279.2 371.4,293 364.2,297.8 369.4,283.4" fill="#8e8e8e" stroke="#c2c2c2" stroke-width="1.0" stroke-linejoin="round"/>
<polygon points="393.6,296.9 389.2,296.3 387.6,302.8 385.8,296.3 380,298.4 384.9,292.5 381,287.7 385.6,288.5 387.2,281.4 388.5,289.7 392.3,288.4 390.2,292.3" fill="#efefef" stroke="none" stroke-width="0" stroke-linejoin="round"/>
<ellipse cx="335.1" cy="317.7" rx="3.1" ry="2.9" transform="rotate(0 335.1 317.7)" fill="#eaeaea" stroke="none" stroke-width="0"/>
<polygon points="324.4,323.3 322.7,324.2 322.3,326.1 320.6,325.2 317.7,325.8 319,323.3 318.7,321.5 320.6,321.4 322.6,319.5 322.6,322.4" fill="#d2d2d2" stroke="none" stroke-width="0" stroke-linejoin="round"/>
<path d="M321.5,323 L329.6,317.6" stroke="#8a8a8a" stroke-width="0.8" fill="none"/>
<ellipse cx="347.8" cy="325.6" rx="3.4" ry="2.4" transform="rotate(0 347.8 325.6)" fill="#d2d2d2" stroke="none" stroke-width="0"/>
</g></g>
<rect x="382" y="318.8" width="13.6" height="2.3" fill="#fff"/>
<clipPath id="c5"><rect x="51.5" y="332.9" width="82.4" height="84.8"/></clipPath>
<rect x="51.5" y="332.9" width="82.4" height="84.8" fill="#030303"/>
<g clip-path="url(#c5)"><g filter="url(#bl)">
<path d="M-8.2,0 C-5.1,-7.7 5.1,-7.7 8.2,0 C5.1,7.7 -5.1,7.7 -8.2,0 Z" transform="translate(95.7 359.1) rotate(-28)" fill="#7a7a7a" stroke="#b8b8b8" stroke-width="2.2" stroke-linejoin="round"/>
<ellipse cx="95.9" cy="358.8" rx="4.8" ry="1.2" transform="rotate(-28 95.9 358.8)" fill="#000" stroke="none" stroke-width="0"/>
<polygon points="51,360.6 56.4,364 51,367.4" fill="#555" stroke="#c5c5c5" stroke-width="1" stroke-linejoin="round"/>
<path d="M-7.2,0 C-4.5,-4.4 4.5,-4.4 7.2,0 C4.5,4.4 -4.5,4.4 -7.2,0 Z" transform="translate(94 379.8) rotate(98)" fill="#5a5a5a" stroke="#c4c4c4" stroke-width="1.8" stroke-linejoin="round"/>
<ellipse cx="94" cy="379.8" rx="0.9" ry="4.2" transform="rotate(8 94 379.8)" fill="#000" stroke="none" stroke-width="0"/>
<path d="M-8.6,0 C-5.3,-7.3 5.3,-7.3 8.6,0 C5.3,7.3 -5.3,7.3 -8.6,0 Z" transform="translate(106.7 377.7) rotate(120)" fill="#a0a0a0" stroke="#f4f4f4" stroke-width="2.6" stroke-linejoin="round"/>
<ellipse cx="106" cy="377.9" rx="1.9" ry="5" transform="rotate(30 106 377.9)" fill="#000" stroke="none" stroke-width="0"/>
<path d="M-7.6,0 C-4.7,-5.7 4.7,-5.7 7.6,0 C4.7,5.7 -4.7,5.7 -7.6,0 Z" transform="translate(108.9 389.1) rotate(-22)" fill="#b0b0b0" stroke="#f4f4f4" stroke-width="2.4" stroke-linejoin="round"/>
<ellipse cx="108.4" cy="388" rx="4.4" ry="1.1" transform="rotate(-22 108.4 388)" fill="#000" stroke="none" stroke-width="0"/>
<path d="M-7,0 C-4.3,-4.9 4.3,-4.9 7,0 C4.3,4.9 -4.3,4.9 -7,0 Z" transform="translate(80.1 395) rotate(-6)" fill="#6a6a6a" stroke="#c4c4c4" stroke-width="1.9" stroke-linejoin="round"/>
<ellipse cx="80.2" cy="394.6" rx="4" ry="0.9" transform="rotate(-6 80.2 394.6)" fill="#000" stroke="none" stroke-width="0"/>
<ellipse cx="61.5" cy="402.9" rx="2.2" ry="2.8" transform="rotate(0 61.5 402.9)" fill="#333" stroke="#e2e2e2" stroke-width="1.7"/>
<ellipse cx="90.1" cy="417.6" rx="4.6" ry="2.2" transform="rotate(-8 90.1 417.6)" fill="#444" stroke="#a5a5a5" stroke-width="1.4"/>
</g></g>
<rect x="114" y="411.9" width="13.8" height="2.2" fill="#fff"/>
<clipPath id="c6"><rect x="140.7" y="332.4" width="82.3" height="84.1"/></clipPath>
<rect x="140.7" y="332.4" width="82.3" height="84.1" fill="#030303"/>
<g clip-path="url(#c6)"><g filter="url(#bl)">
<path d="M-6.9,0 C-4.3,-5.9 4.3,-5.9 6.9,0 C4.3,5.9 -4.3,5.9 -6.9,0 Z" transform="translate(168 357.4) rotate(-14)" fill="#808080" stroke="#dadada" stroke-width="2.4" stroke-linejoin="round"/>
<ellipse cx="168" cy="357.6" rx="3.8" ry="1" transform="rotate(-14 168 357.6)" fill="#000" stroke="none" stroke-width="0"/>
<path d="M-5.4,0 C-3.3,-4.9 3.3,-4.9 5.4,0 C3.3,4.9 -3.3,4.9 -5.4,0 Z" transform="translate(202.3 354.4) rotate(-22)" fill="#4a4a4a" stroke="#acacac" stroke-width="2.2" stroke-linejoin="round"/>
<ellipse cx="202.3" cy="354.4" rx="2" ry="0.9" transform="rotate(-22 202.3 354.4)" fill="#0a0a0a" stroke="none" stroke-width="0"/>
<path d="M-6.8,0 C-4.2,-2.9 4.2,-2.9 6.8,0 C4.2,2.9 -4.2,2.9 -6.8,0 Z" transform="translate(192.5 372.7) rotate(-38)" fill="#3a3a3a" stroke="#c0c0c0" stroke-width="1.5" stroke-linejoin="round"/>
<path d="M-4.6,0 C-2.9,-4.1 2.9,-4.1 4.6,0 C2.9,4.1 -2.9,4.1 -4.6,0 Z" transform="translate(154.5 386) rotate(70)" fill="#666" stroke="#d2d2d2" stroke-width="1.6" stroke-linejoin="round"/>
<polygon points="176.6,378.6 183,380.2 189.6,378.4 187.9,385 189.4,391.4 183,389.9 176.4,391.6 178.1,385" fill="#707070" stroke="#e4e4e4" stroke-width="1.3" stroke-linejoin="round"/>
<path d="M176.6,378.6 L189.4,391.4 M189.6,378.4 L176.4,391.6" stroke="#dcdcdc" stroke-width="0.7" fill="none"/>
<polygon points="197.2,379.8 205.7,389.2 193.8,386.5" fill="#7c7c7c" stroke="#d8d8d8" stroke-width="1.2" stroke-linejoin="round"/>
</g></g>
<rect x="203.1" y="409.4" width="13.9" height="2.3" fill="#fff"/>
<clipPath id="c7"><rect x="231.3" y="333.1" width="82.5" height="83.8"/></clipPath>
<rect x="231.3" y="333.1" width="82.5" height="83.8" fill="#030303"/>
<g clip-path="url(#c7)"><g filter="url(#bl)">
<polygon points="296.5,333 308.6,332.6 302.4,341.6" fill="#7a7a7a" stroke="#d0d0d0" stroke-width="1" stroke-linejoin="round"/>
<ellipse cx="254.4" cy="354.6" rx="6.2" ry="5.8" transform="rotate(0 254.4 354.6)" fill="#8a8a8a" stroke="none" stroke-width="0"/>
<ellipse cx="250.6" cy="356.2" rx="3.2" ry="2" transform="rotate(-30 250.6 356.2)" fill="#dedede" stroke="none" stroke-width="0"/>
<ellipse cx="294" cy="361.1" rx="4.3" ry="5.3" transform="rotate(-15 294 361.1)" fill="#3a3a3a" stroke="#858585" stroke-width="2.0"/>
<ellipse cx="257.6" cy="382.4" rx="5.8" ry="7" transform="rotate(10 257.6 382.4)" fill="#787878" stroke="none" stroke-width="0"/>
<ellipse cx="264.2" cy="386" rx="2.6" ry="3.5" transform="rotate(0 264.2 386)" fill="#1a1a1a" stroke="#f2f2f2" stroke-width="1.7"/>
<ellipse cx="283.6" cy="393.5" rx="5" ry="2.3" transform="rotate(-18 283.6 393.5)" fill="#f8f8f8" stroke="none" stroke-width="0"/>
<ellipse cx="293.9" cy="394.1" rx="4.5" ry="5.5" transform="rotate(-10 293.9 394.1)" fill="#3c3c3c" stroke="#8a8a8a" stroke-width="2.0"/>
</g></g>
<rect x="294" y="410.3" width="13.9" height="2.3" fill="#fff"/>
<clipPath id="c8"><rect x="320.1" y="332.3" width="80.9" height="85.3"/></clipPath>
<rect x="320.1" y="332.3" width="80.9" height="85.3" fill="#030303"/>
<g clip-path="url(#c8)"><g filter="url(#bl)">
<polygon points="326.5,341.7 347.3,349 330.4,359.5" fill="#585858" stroke="#d6d6d6" stroke-width="1.3" stroke-linejoin="round"/>
<ellipse cx="334.6" cy="349.6" rx="1.2" ry="1.2" transform="rotate(0 334.6 349.6)" fill="#fff" stroke="none" stroke-width="0"/>
<polygon points="359.1,356.1 364.2,356.1 365.9,366.2 352.9,365.4" fill="#6e6e6e" stroke="#e2e2e2" stroke-width="1.3" stroke-linejoin="round"/>
<polygon points="399.3,361.3 397.2,364.4 395,366.3 393.3,368.8 390.5,369.2 388.3,367.4 384,368.6 384.2,364.3 384.4,361.3 385.2,358.9 385.3,355.4 388.4,355.7 390.5,354.3 392.5,355.7 396.3,354.8 394.6,359.4" fill="#8c8c8c" stroke="none" stroke-width="0" stroke-linejoin="round"/>
<ellipse cx="390.6" cy="360.6" rx="1.6" ry="2" transform="rotate(0 390.6 360.6)" fill="#eee" stroke="none" stroke-width="0"/>
<ellipse cx="388" cy="362" rx="1.6" ry="3" transform="rotate(0 388 362)" fill="#555" stroke="none" stroke-width="0"/>
<polygon points="343.9,374.7 350.7,386.5 338.8,382.3" fill="#666" stroke="#d2d2d2" stroke-width="1.2" stroke-linejoin="round"/>
<polygon points="327,396.7 336.3,398.4 334.6,413.6 323.6,410.2" fill="#6c6c6c" stroke="#cfcfcf" stroke-width="1.1" stroke-linejoin="round"/>
<path d="M325.2,398 L323.8,410" stroke="#f2f2f2" stroke-width="1.6" fill="none"/>
</g></g>
<rect x="381.1" y="410.8" width="13.9" height="2.3" fill="#fff"/>
<text x="94.6" y="236.3" font-size="9" text-anchor="middle" fill="#111">Control</text>
<text x="182.5" y="236.3" font-size="9" text-anchor="middle" fill="#111">CKO</text>
<text x="272.7" y="236.3" font-size="9" text-anchor="middle" fill="#111">DKO</text>
<text x="360.4" y="236.3" font-size="9" text-anchor="middle" fill="#111">TKO</text>
<text x="49.6" y="285.9" font-size="8.4" text-anchor="end" fill="#111">basal</text>
<text x="49.6" y="378.6" font-size="8.7" text-anchor="end" fill="#111">thrombin</text>
<text x="372.3" y="428.9" font-size="8.8" text-anchor="middle" fill="#111">bar : 5 µm</text>
<rect x="44.5" y="552" width="11.8" height="56.3" fill="#562768"/>
<rect x="65" y="547.5" width="11.8" height="60.8" fill="#2d4f86"/>
<rect x="85.5" y="536.25" width="12" height="72.05" fill="#69ab46"/>
<rect x="106" y="551.75" width="11.8" height="56.55" fill="#a8032e"/>
<rect x="140" y="530" width="11.8" height="78.3" fill="#562768"/>
<rect x="160.5" y="533" width="12" height="75.3" fill="#2d4f86"/>
<rect x="181.2" y="533" width="11.8" height="75.3" fill="#69ab46"/>
<rect x="201.5" y="521.25" width="11.8" height="87.05" fill="#a8032e"/>
<circle cx="47.5" cy="545" r="3.05" fill="#fff" stroke="#111" stroke-width="1.05"/>
<circle cx="53.75" cy="542.5" r="3.05" fill="#fff" stroke="#111" stroke-width="1.05"/>
<circle cx="50" cy="550.5" r="3.05" fill="#fff" stroke="#111" stroke-width="1.05"/>
<circle cx="47.5" cy="553.75" r="3.05" fill="#fff" stroke="#111" stroke-width="1.05"/>
<circle cx="51.25" cy="557.5" r="3.05" fill="#fff" stroke="#111" stroke-width="1.05"/>
<circle cx="53.25" cy="559.25" r="3.05" fill="#fff" stroke="#111" stroke-width="1.05"/>
<circle cx="68" cy="545" r="3.05" fill="#fff" stroke="#111" stroke-width="1.05"/>
<circle cx="71.25" cy="545.5" r="3.05" fill="#fff" stroke="#111" stroke-width="1.05"/>
<circle cx="74.5" cy="543.75" r="3.05" fill="#fff" stroke="#111" stroke-width="1.05"/>
<circle cx="73.75" cy="554.25" r="3.05" fill="#fff" stroke="#111" stroke-width="1.05"/>
<circle cx="88" cy="530.5" r="3.05" fill="#fff" stroke="#111" stroke-width="1.05"/>
<circle cx="94.5" cy="528" r="3.05" fill="#fff" stroke="#111" stroke-width="1.05"/>
<circle cx="88" cy="535.5" r="3.05" fill="#fff" stroke="#111" stroke-width="1.05"/>
<circle cx="93" cy="534.5" r="3.05" fill="#fff" stroke="#111" stroke-width="1.05"/>
<circle cx="91.25" cy="541.75" r="3.05" fill="#fff" stroke="#111" stroke-width="1.05"/>
<circle cx="94.5" cy="543.75" r="3.05" fill="#fff" stroke="#111" stroke-width="1.05"/>
<circle cx="108.75" cy="546.25" r="3.05" fill="#fff" stroke="#111" stroke-width="1.05"/>
<circle cx="115" cy="545" r="3.05" fill="#fff" stroke="#111" stroke-width="1.05"/>
<circle cx="111.75" cy="549.5" r="3.05" fill="#fff" stroke="#111" stroke-width="1.05"/>
<circle cx="108.75" cy="551.75" r="3.05" fill="#fff" stroke="#111" stroke-width="1.05"/>
<circle cx="112.5" cy="555" r="3.05" fill="#fff" stroke="#111" stroke-width="1.05"/>
<circle cx="115" cy="558.75" r="3.05" fill="#fff" stroke="#111" stroke-width="1.05"/>
<circle cx="145.75" cy="522.5" r="3.05" fill="#fff" stroke="#111" stroke-width="1.05"/>
<circle cx="142.5" cy="527" r="3.05" fill="#fff" stroke="#111" stroke-width="1.05"/>
<circle cx="145.75" cy="530" r="3.05" fill="#fff" stroke="#111" stroke-width="1.05"/>
<circle cx="147.5" cy="532.5" r="3.05" fill="#fff" stroke="#111" stroke-width="1.05"/>
<circle cx="148.75" cy="534.25" r="3.05" fill="#fff" stroke="#111" stroke-width="1.05"/>
<circle cx="168" cy="523.75" r="3.05" fill="#fff" stroke="#111" stroke-width="1.05"/>
<circle cx="165" cy="526.25" r="3.05" fill="#fff" stroke="#111" stroke-width="1.05"/>
<circle cx="163.25" cy="529.5" r="3.05" fill="#fff" stroke="#111" stroke-width="1.05"/>
<circle cx="166.75" cy="530" r="3.05" fill="#fff" stroke="#111" stroke-width="1.05"/>
<circle cx="169.5" cy="536.75" r="3.05" fill="#fff" stroke="#111" stroke-width="1.05"/>
<circle cx="166.5" cy="546.25" r="3.05" fill="#fff" stroke="#111" stroke-width="1.05"/>
<circle cx="186.75" cy="511.75" r="3.05" fill="#fff" stroke="#111" stroke-width="1.05"/>
<circle cx="183.75" cy="524.25" r="3.05" fill="#fff" stroke="#111" stroke-width="1.05"/>
<circle cx="190" cy="527" r="3.05" fill="#fff" stroke="#111" stroke-width="1.05"/>
<circle cx="184.25" cy="537" r="3.05" fill="#fff" stroke="#111" stroke-width="1.05"/>
<circle cx="189.5" cy="539.25" r="3.05" fill="#fff" stroke="#111" stroke-width="1.05"/>
<circle cx="186.75" cy="551.25" r="3.05" fill="#fff" stroke="#111" stroke-width="1.05"/>
<circle cx="210.5" cy="507.5" r="3.05" fill="#fff" stroke="#111" stroke-width="1.05"/>
<circle cx="204.25" cy="512" r="3.05" fill="#fff" stroke="#111" stroke-width="1.05"/>
<circle cx="207.5" cy="515.75" r="3.05" fill="#fff" stroke="#111" stroke-width="1.05"/>
<circle cx="204.5" cy="527" r="3.05" fill="#fff" stroke="#111" stroke-width="1.05"/>
<circle cx="207.5" cy="528.75" r="3.05" fill="#fff" stroke="#111" stroke-width="1.05"/>
<circle cx="210" cy="533" r="3.05" fill="#fff" stroke="#111" stroke-width="1.05"/>
<line x1="166.5" y1="533" x2="166.5" y2="524" stroke="#111" stroke-width="0.9"/>
<line x1="163.4" y1="524" x2="169.6" y2="524" stroke="#111" stroke-width="0.9"/>
<line x1="187.1" y1="533" x2="187.1" y2="517.5" stroke="#111" stroke-width="0.9"/>
<line x1="184" y1="517.5" x2="190.2" y2="517.5" stroke="#111" stroke-width="0.9"/>
<line x1="207.4" y1="521.25" x2="207.4" y2="512.5" stroke="#111" stroke-width="0.9"/>
<line x1="204.3" y1="512.5" x2="210.5" y2="512.5" stroke="#111" stroke-width="0.9"/>
<line x1="40.5" y1="488" x2="40.5" y2="609" stroke="#111" stroke-width="1.3"/>
<line x1="36.9" y1="608.4" x2="218.3" y2="608.4" stroke="#111" stroke-width="1.4"/>
<line x1="36.9" y1="490" x2="40.5" y2="490" stroke="#111" stroke-width="1.0"/>
<text x="34.5" y="492.85" font-size="9.5" text-anchor="end" font-weight="normal" fill="#111" textLength="9.9" lengthAdjust="spacingAndGlyphs">30</text>
<line x1="36.9" y1="529.5" x2="40.5" y2="529.5" stroke="#111" stroke-width="1.0"/>
<text x="34.5" y="532.35" font-size="9.5" text-anchor="end" font-weight="normal" fill="#111" textLength="9.9" lengthAdjust="spacingAndGlyphs">20</text>
<line x1="36.9" y1="569" x2="40.5" y2="569" stroke="#111" stroke-width="1.0"/>
<text x="34.5" y="571.85" font-size="9.5" text-anchor="end" font-weight="normal" fill="#111" textLength="9.9" lengthAdjust="spacingAndGlyphs">10</text>
<text x="34.5" y="611.15" font-size="9.5" text-anchor="end" font-weight="normal" fill="#111" textLength="4.95" lengthAdjust="spacingAndGlyphs">0</text>
<line x1="86.2" y1="506.55" x2="118.8" y2="506.55" stroke="#111" stroke-width="1.15"/>
<text x="102.5" y="507.1" font-size="8.4" text-anchor="middle" font-weight="bold" fill="#111" letter-spacing="0.15">*</text>
<text x="91.5" y="521.3" font-size="8.4" text-anchor="middle" font-weight="bold" fill="#111" letter-spacing="0.15">**</text>
<text transform="translate(19.4,547.5) rotate(-90)" font-size="9.8" text-anchor="middle" fill="#111" textLength="87.6" lengthAdjust="spacingAndGlyphs">Surface cover area (µm<tspan font-size="6.2" dy="-3.4">2</tspan><tspan dy="3.4">)</tspan></text>
<text transform="translate(53.5,616.5) rotate(-45)" font-size="8.6" text-anchor="end" fill="#111" >Control</text>
<text transform="translate(74,616.5) rotate(-45)" font-size="8.6" text-anchor="end" fill="#111" >CKO</text>
<text transform="translate(94.6,616.5) rotate(-45)" font-size="8.6" text-anchor="end" fill="#111" >DKO</text>
<text transform="translate(115,616.5) rotate(-45)" font-size="8.6" text-anchor="end" fill="#111" >TKO</text>
<text transform="translate(149,616.5) rotate(-45)" font-size="8.6" text-anchor="end" fill="#111" >Control</text>
<text transform="translate(169.6,616.5) rotate(-45)" font-size="8.6" text-anchor="end" fill="#111" >CKO</text>
<text transform="translate(190.2,616.5) rotate(-45)" font-size="8.6" text-anchor="end" fill="#111" >DKO</text>
<text transform="translate(210.5,616.5) rotate(-45)" font-size="8.6" text-anchor="end" fill="#111" >TKO</text>
<line x1="31.4" y1="641.6" x2="107.6" y2="641.6" stroke="#111" stroke-width="1.0"/>
<text x="69.5" y="652.2" font-size="8.8" text-anchor="middle" font-weight="normal" fill="#111" >basal</text>
<line x1="124.9" y1="641.6" x2="201" y2="641.6" stroke="#111" stroke-width="1.0"/>
<text x="161.7" y="652.2" font-size="8.8" text-anchor="middle" font-weight="normal" fill="#111" >0.1 U/ml thrombin</text>
<line x1="31.4" y1="656.9" x2="213.7" y2="656.9" stroke="#111" stroke-width="1.0"/>
<text x="121.3" y="668.3" font-size="8.8" text-anchor="middle" font-weight="normal" fill="#111" >100 µg/ml fibrinogen</text>
<circle cx="294.9" cy="490.1" r="3.1" fill="#fff" stroke="#6b3390" stroke-width="1.15"/>
<circle cx="298.7" cy="492.2" r="3.1" fill="#fff" stroke="#6b3390" stroke-width="1.15"/>
<circle cx="296.7" cy="571.3" r="3.1" fill="#fff" stroke="#6b3390" stroke-width="1.15"/>
<circle cx="287.8" cy="584.5" r="3.1" fill="#fff" stroke="#6b3390" stroke-width="1.15"/>
<circle cx="291.4" cy="587.5" r="3.1" fill="#fff" stroke="#6b3390" stroke-width="1.15"/>
<circle cx="298.7" cy="585.1" r="3.1" fill="#fff" stroke="#6b3390" stroke-width="1.15"/>
<circle cx="306.1" cy="583.1" r="3.1" fill="#fff" stroke="#6b3390" stroke-width="1.15"/>
<circle cx="302.3" cy="589" r="3.1" fill="#fff" stroke="#6b3390" stroke-width="1.15"/>
<circle cx="304.1" cy="595.5" r="3.1" fill="#fff" stroke="#6b3390" stroke-width="1.15"/>
<circle cx="296.7" cy="596.9" r="3.1" fill="#fff" stroke="#6b3390" stroke-width="1.15"/>
<circle cx="285.5" cy="598.7" r="3.1" fill="#fff" stroke="#6b3390" stroke-width="1.15"/>
<circle cx="289.3" cy="599.3" r="3.1" fill="#fff" stroke="#6b3390" stroke-width="1.15"/>
<circle cx="292.8" cy="600.8" r="3.1" fill="#fff" stroke="#6b3390" stroke-width="1.15"/>
<circle cx="300.2" cy="601.4" r="3.1" fill="#fff" stroke="#6b3390" stroke-width="1.15"/>
<circle cx="307.6" cy="604.3" r="3.1" fill="#fff" stroke="#6b3390" stroke-width="1.15"/>
<circle cx="338.6" cy="490.1" r="3.1" fill="#fff" stroke="#2a4a8a" stroke-width="1.15"/>
<circle cx="343.6" cy="492.2" r="3.1" fill="#fff" stroke="#2a4a8a" stroke-width="1.15"/>
<circle cx="340.9" cy="494" r="3.1" fill="#fff" stroke="#2a4a8a" stroke-width="1.15"/>
<circle cx="339.5" cy="587.5" r="3.1" fill="#fff" stroke="#2a4a8a" stroke-width="1.15"/>
<circle cx="343.6" cy="586.6" r="3.1" fill="#fff" stroke="#2a4a8a" stroke-width="1.15"/>
<circle cx="340" cy="592.8" r="3.1" fill="#fff" stroke="#2a4a8a" stroke-width="1.15"/>
<circle cx="338" cy="596.3" r="3.1" fill="#fff" stroke="#2a4a8a" stroke-width="1.15"/>
<circle cx="342.4" cy="596.9" r="3.1" fill="#fff" stroke="#2a4a8a" stroke-width="1.15"/>
<circle cx="349.5" cy="598.4" r="3.1" fill="#fff" stroke="#2a4a8a" stroke-width="1.15"/>
<circle cx="336.5" cy="599.3" r="3.1" fill="#fff" stroke="#2a4a8a" stroke-width="1.15"/>
<circle cx="329.7" cy="601.7" r="3.1" fill="#fff" stroke="#2a4a8a" stroke-width="1.15"/>
<circle cx="333.3" cy="602.2" r="3.1" fill="#fff" stroke="#2a4a8a" stroke-width="1.15"/>
<circle cx="346.8" cy="603.1" r="3.1" fill="#fff" stroke="#2a4a8a" stroke-width="1.15"/>
<circle cx="351.8" cy="603.7" r="3.1" fill="#fff" stroke="#2a4a8a" stroke-width="1.15"/>
<circle cx="374.5" cy="490.1" r="3.1" fill="#fff" stroke="#5fa83c" stroke-width="1.15"/>
<circle cx="378.4" cy="490.1" r="3.1" fill="#fff" stroke="#5fa83c" stroke-width="1.15"/>
<circle cx="383.2" cy="490.1" r="3.1" fill="#fff" stroke="#5fa83c" stroke-width="1.15"/>
<circle cx="388.4" cy="490.1" r="3.1" fill="#fff" stroke="#5fa83c" stroke-width="1.15"/>
<circle cx="393.4" cy="490.1" r="3.1" fill="#fff" stroke="#5fa83c" stroke-width="1.15"/>
<circle cx="397.2" cy="490.1" r="3.1" fill="#fff" stroke="#5fa83c" stroke-width="1.15"/>
<circle cx="385.7" cy="505.5" r="3.1" fill="#fff" stroke="#5fa83c" stroke-width="1.15"/>
<circle cx="385.7" cy="526.1" r="3.1" fill="#fff" stroke="#5fa83c" stroke-width="1.15"/>
<circle cx="384.5" cy="548" r="3.1" fill="#fff" stroke="#5fa83c" stroke-width="1.15"/>
<circle cx="386.5" cy="553.6" r="3.1" fill="#fff" stroke="#5fa83c" stroke-width="1.15"/>
<circle cx="429.9" cy="490.1" r="3.1" fill="#fff" stroke="#b00f38" stroke-width="1.15"/>
<circle cx="429.9" cy="546.2" r="3.1" fill="#fff" stroke="#b00f38" stroke-width="1.15"/>
<circle cx="429.9" cy="558" r="3.1" fill="#fff" stroke="#b00f38" stroke-width="1.15"/>
<circle cx="426.4" cy="567.4" r="3.1" fill="#fff" stroke="#b00f38" stroke-width="1.15"/>
<circle cx="433.7" cy="566.3" r="3.1" fill="#fff" stroke="#b00f38" stroke-width="1.15"/>
<circle cx="433.7" cy="574.2" r="3.1" fill="#fff" stroke="#b00f38" stroke-width="1.15"/>
<circle cx="419" cy="576.6" r="3.1" fill="#fff" stroke="#b00f38" stroke-width="1.15"/>
<circle cx="426.4" cy="578.6" r="3.1" fill="#fff" stroke="#b00f38" stroke-width="1.15"/>
<circle cx="441.1" cy="583.1" r="3.1" fill="#fff" stroke="#b00f38" stroke-width="1.15"/>
<circle cx="437.3" cy="585.1" r="3.1" fill="#fff" stroke="#b00f38" stroke-width="1.15"/>
<circle cx="429.9" cy="586.6" r="3.1" fill="#fff" stroke="#b00f38" stroke-width="1.15"/>
<circle cx="419" cy="592.5" r="3.1" fill="#fff" stroke="#b00f38" stroke-width="1.15"/>
<circle cx="422.5" cy="591.9" r="3.1" fill="#fff" stroke="#b00f38" stroke-width="1.15"/>
<circle cx="426.4" cy="598.4" r="3.1" fill="#fff" stroke="#b00f38" stroke-width="1.15"/>
<circle cx="433.7" cy="600.8" r="3.1" fill="#fff" stroke="#b00f38" stroke-width="1.15"/>
<circle cx="441.1" cy="601.4" r="3.1" fill="#fff" stroke="#b00f38" stroke-width="1.15"/>
<line x1="281.9" y1="578.6" x2="311.1" y2="578.6" stroke="#222" stroke-width="1.6"/>
<line x1="326.8" y1="577.8" x2="355.7" y2="577.8" stroke="#222" stroke-width="1.6"/>
<line x1="370.9" y1="500.8" x2="400.4" y2="500.8" stroke="#222" stroke-width="1.6"/>
<line x1="415.5" y1="574.8" x2="445" y2="574.8" stroke="#222" stroke-width="1.6"/>
<line x1="274.3" y1="487.2" x2="274.3" y2="609.4" stroke="#111" stroke-width="1.3"/>
<line x1="270.7" y1="608.75" x2="453.8" y2="608.75" stroke="#111" stroke-width="1.4"/>
<text x="268.3" y="611.8" font-size="9.5" text-anchor="end" font-weight="normal" fill="#111" textLength="4.95" lengthAdjust="spacingAndGlyphs">0</text>
<line x1="270.7" y1="588.6" x2="274.3" y2="588.6" stroke="#111" stroke-width="1.0"/>
<text x="268.3" y="592" font-size="9.5" text-anchor="end" font-weight="normal" fill="#111" textLength="14.85" lengthAdjust="spacingAndGlyphs">200</text>
<line x1="270.7" y1="568.8" x2="274.3" y2="568.8" stroke="#111" stroke-width="1.0"/>
<text x="268.3" y="572.2" font-size="9.5" text-anchor="end" font-weight="normal" fill="#111" textLength="14.85" lengthAdjust="spacingAndGlyphs">400</text>
<line x1="270.7" y1="549" x2="274.3" y2="549" stroke="#111" stroke-width="1.0"/>
<text x="268.3" y="552.4" font-size="9.5" text-anchor="end" font-weight="normal" fill="#111" textLength="14.85" lengthAdjust="spacingAndGlyphs">600</text>
<line x1="270.7" y1="529.2" x2="274.3" y2="529.2" stroke="#111" stroke-width="1.0"/>
<text x="268.3" y="532.6" font-size="9.5" text-anchor="end" font-weight="normal" fill="#111" textLength="14.85" lengthAdjust="spacingAndGlyphs">800</text>
<line x1="270.7" y1="509.4" x2="274.3" y2="509.4" stroke="#111" stroke-width="1.0"/>
<text x="268.3" y="512.8" font-size="9.5" text-anchor="end" font-weight="normal" fill="#111" textLength="19.8" lengthAdjust="spacingAndGlyphs">1000</text>
<line x1="270.7" y1="489.6" x2="274.3" y2="489.6" stroke="#111" stroke-width="1.0"/>
<text x="268.3" y="493" font-size="9.5" text-anchor="end" font-weight="normal" fill="#111" textLength="19.8" lengthAdjust="spacingAndGlyphs">1200</text>
<line x1="371.8" y1="468.25" x2="451.4" y2="468.25" stroke="#111" stroke-width="1.15"/>
<text x="411.6" y="468.6" font-size="8.4" text-anchor="middle" font-weight="bold" fill="#111" letter-spacing="0.15">***</text>
<text x="385.7" y="483.4" font-size="8.4" text-anchor="middle" font-weight="bold" fill="#111" letter-spacing="0.15">***</text>
<text transform="translate(243.2,547.7) rotate(-90)" font-size="9.8" text-anchor="middle" fill="#111" textLength="70.8" lengthAdjust="spacingAndGlyphs">Bleeding time (sec)</text>
<text x="296.7" y="621.6" font-size="9" text-anchor="middle" font-weight="normal" fill="#111" >Control</text>
<text x="340.9" y="621.6" font-size="9" text-anchor="middle" font-weight="normal" fill="#111" >CKO</text>
<text x="385.7" y="621.6" font-size="9" text-anchor="middle" font-weight="normal" fill="#111" >DKO</text>
<text x="429.9" y="621.6" font-size="9" text-anchor="middle" font-weight="normal" fill="#111" >TKO</text>
<rect x="0" y="0" width="520" height="1.15" fill="#000"/><rect x="0" y="0" width="1.3" height="678" fill="#000"/><rect x="518.8" y="0" width="1.2" height="678" fill="#000"/><rect x="0" y="676.6" width="520" height="1.4" fill="#000"/>
</svg>
</body></html>
